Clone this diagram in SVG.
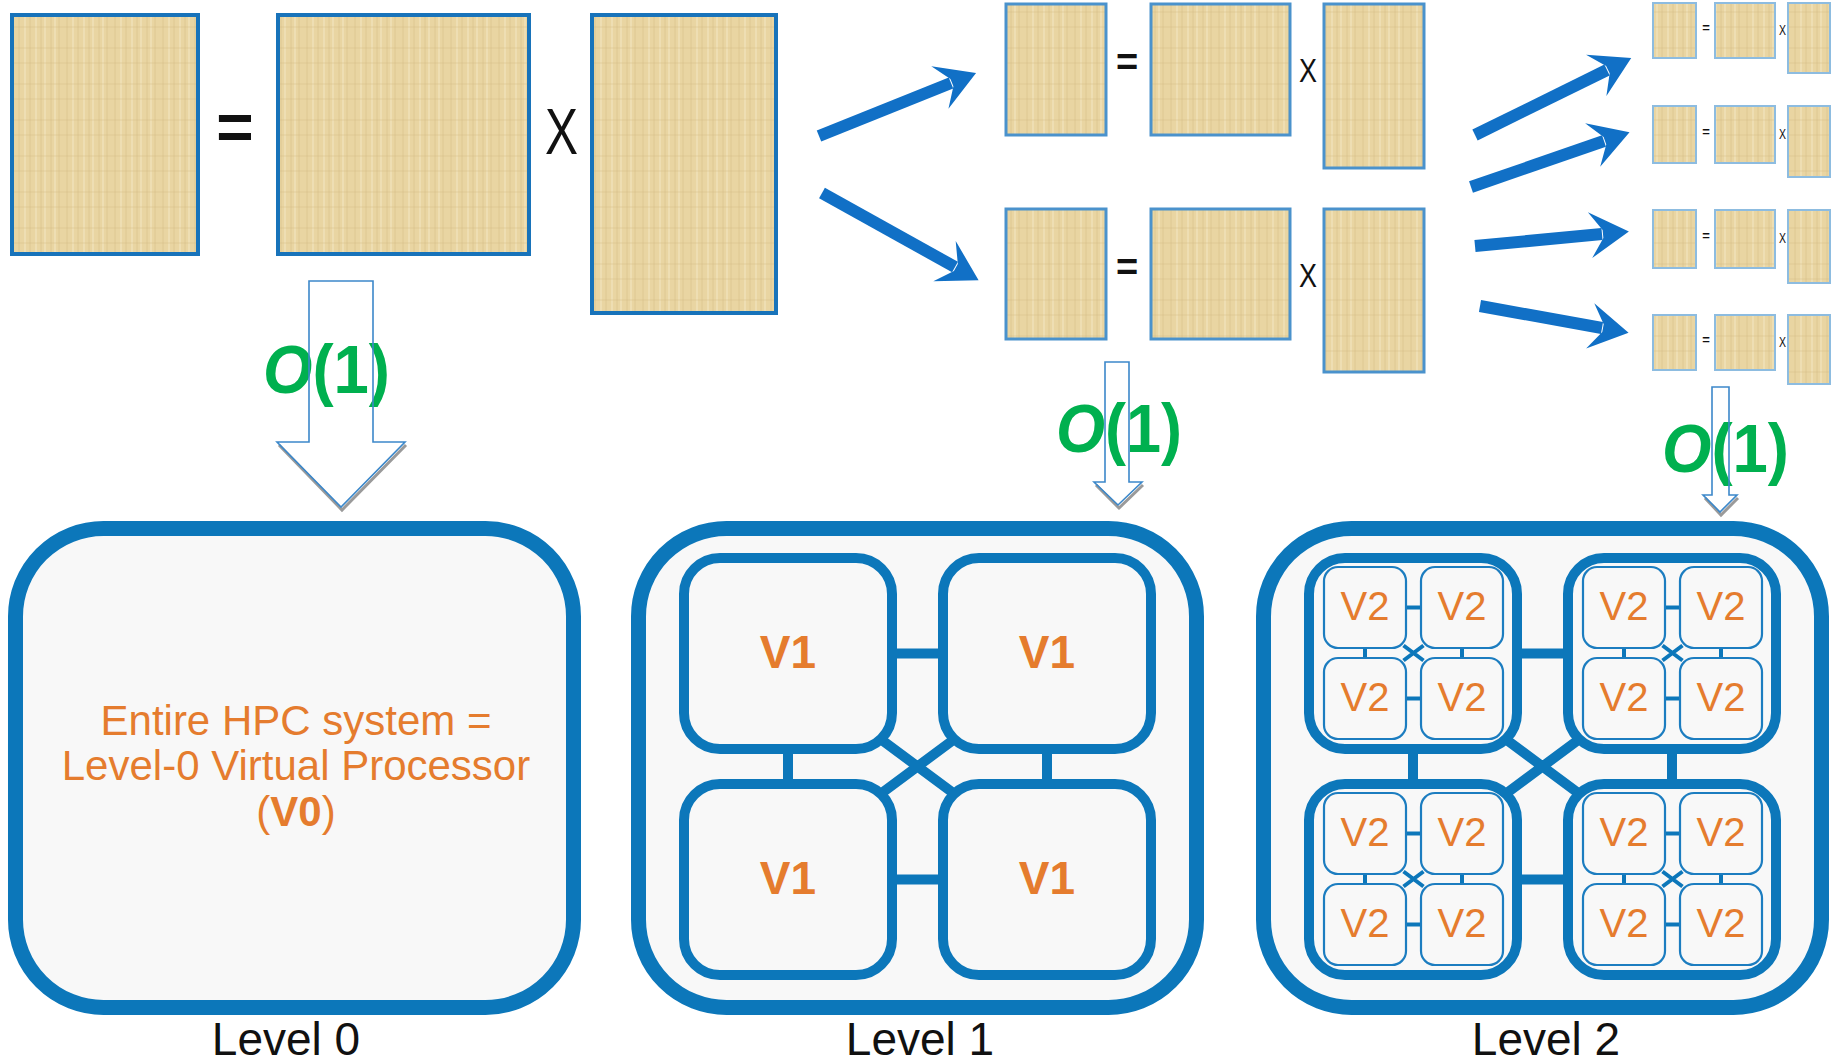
<svg xmlns="http://www.w3.org/2000/svg" width="1835" height="1064" viewBox="0 0 1835 1064">
<style>
.mx{fill:url(#pap);}
.mxb{stroke:#1873BA;stroke-width:4;}
.mx1{stroke:#4A92CC;stroke-width:3;}
.mx2{stroke:#8DBCE0;stroke-width:2;}
.op{font-family:"Liberation Sans",Arial,sans-serif;fill:#111;}
.ba{stroke:#1170C6;stroke-width:12;fill:none;marker-end:url(#ah);}
.o1{font-family:"Liberation Sans",Arial,sans-serif;font-weight:bold;font-size:68px;fill:#00B04F;}
.oa{fill:none;stroke:#3C88CA;stroke-width:1.6;}
.sh{fill:none;stroke:#9A9A9A;stroke-width:3;}
.panel{fill:#F8F8F8;stroke:#0C77BA;stroke-width:15;}
.v1b{fill:#F8F8F8;stroke:#0C77BA;stroke-width:10;}
.v2b{fill:#F8F8F8;stroke:#1C7DC0;stroke-width:2.2;}
.con{stroke:#0C77BA;stroke-width:10;fill:none;}
.con2{stroke:#0C77BA;stroke-width:4;fill:none;}
.or{font-family:"Liberation Sans",Arial,sans-serif;fill:#E57C2E;text-anchor:middle;}
.lv{font-family:"Liberation Sans",Arial,sans-serif;font-size:46px;fill:#111;text-anchor:middle;}
</style>
<defs>
<pattern id="pap" width="48" height="36" patternUnits="userSpaceOnUse">
<rect width="48" height="36" fill="#E9D5A2"/>
<path d="M3 0V36M11 0V36M19 0V36M30 0V36M41 0V36" stroke="#D5BC85" stroke-width="1" opacity=".6"/>
<path d="M7 0V36M25 0V36M36 0V36M45 0V36" stroke="#F4E7C3" stroke-width="1.5" opacity=".7"/>
<path d="M0 12H48M0 27H48" stroke="#D3BA84" stroke-width="1" opacity=".45"/>
</pattern>
<marker id="ah" markerUnits="userSpaceOnUse" orient="auto" refX="0" refY="0" markerWidth="80" markerHeight="80" overflow="visible">
<path d="M27,0 L-12,-23 L1,-4 L1,4 L-12,23 Z" fill="#1170C6"/>
</marker>
</defs>
<rect width="1835" height="1064" fill="#FFFFFF"/>

<g id="matrix-level0">
<rect class="mx mxb" x="12" y="15" width="186" height="239"/>
<text class="op" x="235" y="149" font-size="64" font-weight="bold" text-anchor="middle">=</text>
<rect class="mx mxb" x="278" y="15" width="251" height="239"/>
<text class="op" x="545" y="154" font-size="64" textLength="33" lengthAdjust="spacingAndGlyphs">X</text>
<rect class="mx mxb" x="592" y="15" width="184" height="298"/>
</g>

<g id="matrix-level1-top">
<rect class="mx mx1" x="1006" y="4" width="100" height="131"/>
<text class="op" x="1127" y="75" font-size="38" font-weight="bold" text-anchor="middle">=</text>
<rect class="mx mx1" x="1151" y="4" width="139" height="131"/>
<text class="op" x="1299" y="82" font-size="34" textLength="18" lengthAdjust="spacingAndGlyphs">X</text>
<rect class="mx mx1" x="1324" y="4" width="100" height="164"/>
</g>
<g id="matrix-level1-bottom">
<rect class="mx mx1" x="1006" y="209" width="100" height="130"/>
<text class="op" x="1127" y="280" font-size="38" font-weight="bold" text-anchor="middle">=</text>
<rect class="mx mx1" x="1151" y="209" width="139" height="130"/>
<text class="op" x="1299" y="287" font-size="34" textLength="18" lengthAdjust="spacingAndGlyphs">X</text>
<rect class="mx mx1" x="1324" y="209" width="100" height="163"/>
</g>

<g id="matrix-level2-1">
<rect class="mx mx2" x="1653" y="3" width="43" height="55"/>
<text class="op" x="1706" y="32" font-size="13" font-weight="bold" text-anchor="middle">=</text>
<rect class="mx mx2" x="1715" y="3" width="60" height="55"/>
<text class="op" x="1779" y="35" font-size="15" textLength="7" lengthAdjust="spacingAndGlyphs">X</text>
<rect class="mx mx2" x="1788" y="3" width="42" height="70"/>
</g>
<g id="matrix-level2-2">
<rect class="mx mx2" x="1653" y="106" width="43" height="57"/>
<text class="op" x="1706" y="136" font-size="13" font-weight="bold" text-anchor="middle">=</text>
<rect class="mx mx2" x="1715" y="106" width="60" height="57"/>
<text class="op" x="1779" y="139" font-size="15" textLength="7" lengthAdjust="spacingAndGlyphs">X</text>
<rect class="mx mx2" x="1788" y="106" width="42" height="71"/>
</g>
<g id="matrix-level2-3">
<rect class="mx mx2" x="1653" y="210" width="43" height="58"/>
<text class="op" x="1706" y="240" font-size="13" font-weight="bold" text-anchor="middle">=</text>
<rect class="mx mx2" x="1715" y="210" width="60" height="58"/>
<text class="op" x="1779" y="243" font-size="15" textLength="7" lengthAdjust="spacingAndGlyphs">X</text>
<rect class="mx mx2" x="1788" y="210" width="42" height="73"/>
</g>
<g id="matrix-level2-4">
<rect class="mx mx2" x="1653" y="315" width="43" height="55"/>
<text class="op" x="1706" y="344" font-size="13" font-weight="bold" text-anchor="middle">=</text>
<rect class="mx mx2" x="1715" y="315" width="60" height="55"/>
<text class="op" x="1779" y="347" font-size="15" textLength="7" lengthAdjust="spacingAndGlyphs">X</text>
<rect class="mx mx2" x="1788" y="315" width="42" height="69"/>
</g>

<g id="split-arrows">
<line class="ba" x1="819" y1="136" x2="951" y2="83"/>
<line class="ba" x1="822" y1="193" x2="955" y2="267"/>
<line class="ba" x1="1475" y1="135" x2="1607" y2="70"/>
<line class="ba" x1="1471" y1="187" x2="1604" y2="141"/>
<line class="ba" x1="1475" y1="246" x2="1602" y2="234"/>
<line class="ba" x1="1480" y1="306" x2="1602" y2="328"/>
</g>

<g id="o1-labels">
<text class="o1" x="263" y="393" textLength="127" lengthAdjust="spacingAndGlyphs"><tspan font-style="italic">O</tspan>(1)</text>
<text class="o1" x="1056" y="452" textLength="126" lengthAdjust="spacingAndGlyphs"><tspan font-style="italic">O</tspan>(1)</text>
<text class="o1" x="1662" y="472" textLength="127" lengthAdjust="spacingAndGlyphs"><tspan font-style="italic">O</tspan>(1)</text>
</g>

<g id="o1-arrows">
<path class="sh" d="M279,445 L342,510 L406,445"/>
<path class="oa" d="M309,281 H373 V442 H405 L341,507 L277,442 H309 Z"/>
<path class="sh" d="M1096,485 L1119,508 L1143,485"/>
<path class="oa" d="M1105,362 H1129 V482 H1142 L1118,505 L1094,482 H1105 Z"/>
<path class="sh" d="M1705,498 L1721,515 L1738,498"/>
<path class="oa" d="M1712,387 H1729 V495 H1737 L1720,512 L1703,495 H1712 Z"/>
</g>

<!-- Level 0 -->
<g id="level0">
<rect class="panel" x="15.5" y="528.5" width="558" height="479" rx="88"/>
<text class="or" font-size="42" x="296" y="735">Entire HPC system =</text>
<text class="or" font-size="42" x="296" y="780">Level-0 Virtual Processor</text>
<text class="or" font-size="42" x="296" y="826">(<tspan font-weight="bold">V0</tspan>)</text>
<text class="lv" x="286" y="1055">Level 0</text>
</g>

<!-- Level 1 -->
<g id="level1">
<rect class="panel" x="638.5" y="528.5" width="558" height="479" rx="88"/>
<text class="lv" x="920" y="1055">Level 1</text>
</g>
<g id="level1-connectors">
<path class="con" d="M892,653.5 H943 M892,879.5 H943 M788,749 V784 M1047,749 V784 M867,729 L968,804 M968,729 L867,804"/>
</g>
<g id="v1-tl"><rect class="v1b" x="684" y="558" width="208" height="191" rx="36"/><text class="or" font-size="46" font-weight="bold" x="788" y="668">V1</text></g>
<g id="v1-tr"><rect class="v1b" x="943" y="558" width="208" height="191" rx="36"/><text class="or" font-size="46" font-weight="bold" x="1047" y="668">V1</text></g>
<g id="v1-bl"><rect class="v1b" x="684" y="784" width="208" height="191" rx="36"/><text class="or" font-size="46" font-weight="bold" x="788" y="894">V1</text></g>
<g id="v1-br"><rect class="v1b" x="943" y="784" width="208" height="191" rx="36"/><text class="or" font-size="46" font-weight="bold" x="1047" y="894">V1</text></g>

<!-- Level 2 -->
<g id="level2">
<rect class="panel" x="1263.5" y="528.5" width="558" height="479" rx="88"/>
<text class="lv" x="1546" y="1055">Level 2</text>
</g>
<g id="level2-connectors">
<path class="con" d="M1517,653.5 H1568 M1517,879.5 H1568 M1413,749 V784 M1672,749 V784 M1492,729 L1593,804 M1593,729 L1492,804"/>
</g>
<g id="v2-group-tl">
<rect class="v1b" x="1309" y="558" width="208" height="191" rx="36"/>
<path class="con2" d="M1405,607.5 H1422 M1405,698.5 H1422 M1365,647 V659 M1462,647 V659 M1403.5,645.5 L1423.5,660.5 M1423.5,645.5 L1403.5,660.5"/>
<rect class="v2b" x="1324" y="567" width="82" height="81" rx="14"/><text class="or" font-size="40" x="1365" y="620">V2</text>
<rect class="v2b" x="1421" y="567" width="82" height="81" rx="14"/><text class="or" font-size="40" x="1462" y="620">V2</text>
<rect class="v2b" x="1324" y="658" width="82" height="81" rx="14"/><text class="or" font-size="40" x="1365" y="711">V2</text>
<rect class="v2b" x="1421" y="658" width="82" height="81" rx="14"/><text class="or" font-size="40" x="1462" y="711">V2</text>
</g>
<g id="v2-group-tr">
<rect class="v1b" x="1568" y="558" width="208" height="191" rx="36"/>
<path class="con2" d="M1664,607.5 H1681 M1664,698.5 H1681 M1624,647 V659 M1721,647 V659 M1662.5,645.5 L1682.5,660.5 M1682.5,645.5 L1662.5,660.5"/>
<rect class="v2b" x="1583" y="567" width="82" height="81" rx="14"/><text class="or" font-size="40" x="1624" y="620">V2</text>
<rect class="v2b" x="1680" y="567" width="82" height="81" rx="14"/><text class="or" font-size="40" x="1721" y="620">V2</text>
<rect class="v2b" x="1583" y="658" width="82" height="81" rx="14"/><text class="or" font-size="40" x="1624" y="711">V2</text>
<rect class="v2b" x="1680" y="658" width="82" height="81" rx="14"/><text class="or" font-size="40" x="1721" y="711">V2</text>
</g>
<g id="v2-group-bl">
<rect class="v1b" x="1309" y="784" width="208" height="191" rx="36"/>
<path class="con2" d="M1405,833.5 H1422 M1405,924.5 H1422 M1365,873 V885 M1462,873 V885 M1403.5,871.5 L1423.5,886.5 M1423.5,871.5 L1403.5,886.5"/>
<rect class="v2b" x="1324" y="793" width="82" height="81" rx="14"/><text class="or" font-size="40" x="1365" y="846">V2</text>
<rect class="v2b" x="1421" y="793" width="82" height="81" rx="14"/><text class="or" font-size="40" x="1462" y="846">V2</text>
<rect class="v2b" x="1324" y="884" width="82" height="81" rx="14"/><text class="or" font-size="40" x="1365" y="937">V2</text>
<rect class="v2b" x="1421" y="884" width="82" height="81" rx="14"/><text class="or" font-size="40" x="1462" y="937">V2</text>
</g>
<g id="v2-group-br">
<rect class="v1b" x="1568" y="784" width="208" height="191" rx="36"/>
<path class="con2" d="M1664,833.5 H1681 M1664,924.5 H1681 M1624,873 V885 M1721,873 V885 M1662.5,871.5 L1682.5,886.5 M1682.5,871.5 L1662.5,886.5"/>
<rect class="v2b" x="1583" y="793" width="82" height="81" rx="14"/><text class="or" font-size="40" x="1624" y="846">V2</text>
<rect class="v2b" x="1680" y="793" width="82" height="81" rx="14"/><text class="or" font-size="40" x="1721" y="846">V2</text>
<rect class="v2b" x="1583" y="884" width="82" height="81" rx="14"/><text class="or" font-size="40" x="1624" y="937">V2</text>
<rect class="v2b" x="1680" y="884" width="82" height="81" rx="14"/><text class="or" font-size="40" x="1721" y="937">V2</text>
</g>
</svg>
